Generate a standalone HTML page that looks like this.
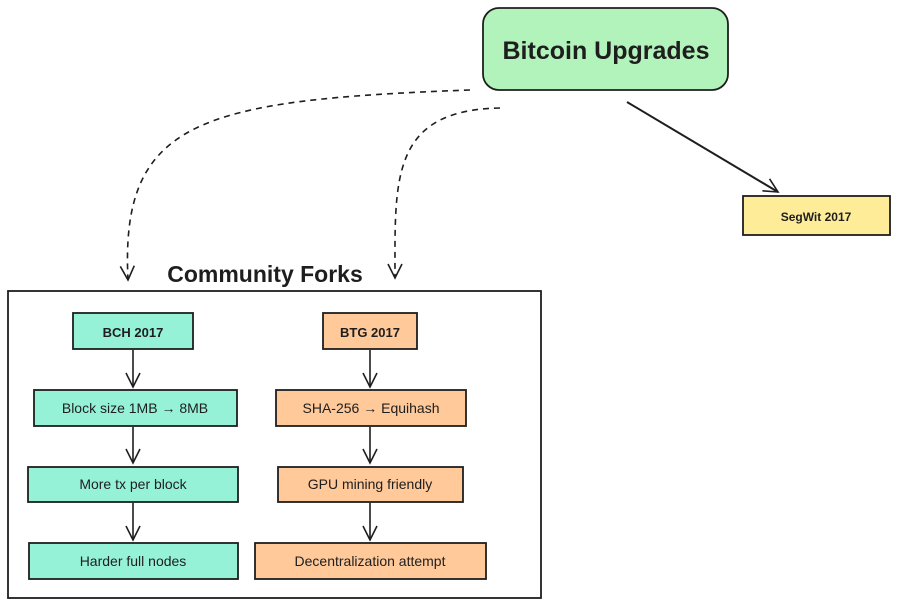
<!DOCTYPE html>
<html><head><style>
body{margin:0;background:#fff;width:900px;height:606px;overflow:hidden}
svg text{font-family:"Liberation Sans",sans-serif}
</style></head><body>
<svg width="900" height="606" viewBox="0 0 900 606" xmlns="http://www.w3.org/2000/svg">
<defs>
<marker id="a" markerWidth="18" markerHeight="18" refX="15" refY="9" orient="auto" markerUnits="userSpaceOnUse">
<path d="M1,2 L15,9 L1,16" fill="none" stroke="#1e1e1e" stroke-width="1.6"/>
</marker>
</defs>
<g stroke="#1e1e1e" stroke-width="1.8">
<rect x="483" y="8" width="245" height="82" rx="16" fill="#b2f2bb"/>
<rect x="743" y="196" width="147" height="39" fill="#ffec99"/>
<rect x="8" y="291" width="533" height="307" fill="none"/>
<rect x="73" y="313" width="120" height="36" fill="#96f2d7"/>
<rect x="34" y="390" width="203" height="36" fill="#96f2d7"/>
<rect x="28" y="467" width="210" height="35" fill="#96f2d7"/>
<rect x="29" y="543" width="209" height="36" fill="#96f2d7"/>
<rect x="323" y="313" width="94" height="36" fill="#ffc99a"/>
<rect x="276" y="390" width="190" height="36" fill="#ffc99a"/>
<rect x="278" y="467" width="185" height="35" fill="#ffc99a"/>
<rect x="255" y="543" width="231" height="36" fill="#ffc99a"/>
</g>
<g stroke="#1e1e1e" stroke-width="1.6" fill="none">
<path d="M627,102 L778,192" stroke-width="2" marker-end="url(#a)"/>
<path d="M470,90 C200,100 120,120 128,280" stroke-dasharray="6,5" marker-end="url(#a)"/>
<path d="M500,108 C390,110 395,180 395,278" stroke-dasharray="6,5" marker-end="url(#a)"/>
<path d="M133,350 L133,387" marker-end="url(#a)"/>
<path d="M133,427 L133,463" marker-end="url(#a)"/>
<path d="M133,503 L133,540" marker-end="url(#a)"/>
<path d="M370,350 L370,387" marker-end="url(#a)"/>
<path d="M370,427 L370,463" marker-end="url(#a)"/>
<path d="M370,503 L370,540" marker-end="url(#a)"/>
</g>
<g fill="#1e1e1e" text-anchor="middle" font-weight="bold">
<text x="606" y="59" font-size="25">Bitcoin Upgrades</text>
<text x="816" y="221" font-size="12">SegWit 2017</text>
<text x="265" y="282" font-size="23">Community Forks</text>
<text x="133" y="337" font-size="13">BCH 2017</text>
<text x="370" y="337" font-size="13">BTG 2017</text>
</g>
<g fill="#1e1e1e" text-anchor="middle" font-size="14">
<text x="135" y="413">Block size 1MB → 8MB</text>
<text x="133" y="489">More tx per block</text>
<text x="133" y="566">Harder full nodes</text>
<text x="371" y="413">SHA-256 → Equihash</text>
<text x="370" y="489">GPU mining friendly</text>
<text x="370" y="566">Decentralization attempt</text>
</g>
</svg>
</body></html>
